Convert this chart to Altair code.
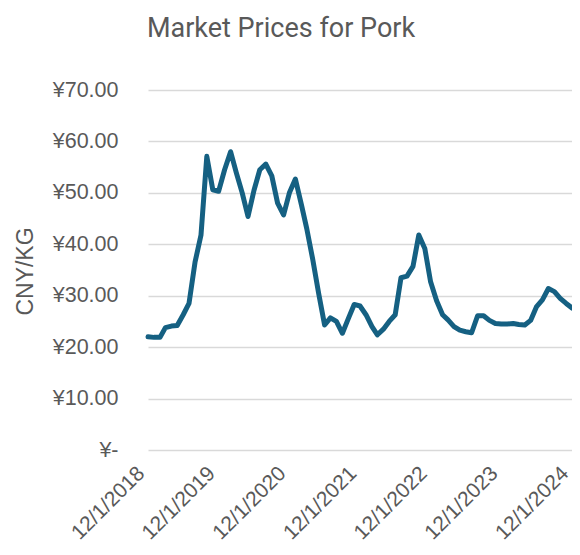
import altair as alt
import pandas as pd

start_month = "2018-12-01"
prices = [
    22.0, 21.9, 21.9, 23.8, 24.1, 24.2, 26.3, 28.5, 36.5, 41.8, 57.1, 50.6,
    50.3, 54.5, 58.0, 54.0, 50.0, 45.4, 50.5, 54.5, 55.6, 53.3, 48.0, 45.7,
    50.0, 52.7, 47.7, 43.0, 37.0, 30.5, 24.3, 25.7, 25.0, 22.7, 25.5, 28.3,
    28.0, 26.3, 24.0, 22.4, 23.5, 25.0, 26.3, 33.5, 33.8, 35.7, 41.8, 39.2,
    32.7, 29.0, 26.3, 25.3, 24.0, 23.3, 23.0, 22.8, 26.1, 26.1, 25.2, 24.6,
    24.5, 24.5, 24.6, 24.4, 24.3, 25.2, 27.9, 29.2, 31.4, 30.8, 29.5, 28.5,
    27.6,
]
tick_years = [2018, 2019, 2020, 2021, 2022, 2023, 2024]
y_ticks = [0, 10, 20, 30, 40, 50, 60, 70]

months = pd.date_range(start_month, periods=len(prices), freq="MS")
df = pd.DataFrame({"month": months.strftime("%Y-%m-%dT00:00:00"), "price": prices})

label_font = "Liberation Sans"
grey = "#595959"

chart = (
    alt.Chart(df)
    .mark_line(color="#156082", strokeWidth=5, strokeCap="round", strokeJoin="round")
    .encode(
        x=alt.X(
            "month:T",
            scale=alt.Scale(
                domain=[
                    alt.DateTime(year=tick_years[0], month=12, date=1),
                    alt.DateTime(year=tick_years[-1], month=12, date=1),
                ]
            ),
            axis=alt.Axis(
                values=[alt.DateTime(year=y, month=12, date=1) for y in tick_years],
                format="%-m/%-d/%Y",
                labelAngle=-45,
                labelAlign="right",
                labelBaseline="middle",
                labelFont=label_font,
                labelFontSize=21,
                labelColor=grey,
                labelPadding=20,
                labelOffset=-7,
                labelOverlap=False,
                labelBound=False,
                labelFlush=False,
                domain=False,
                ticks=False,
                grid=False,
                title=None,
            ),
        ),
        y=alt.Y(
            "price:Q",
            scale=alt.Scale(domain=[0, 70], nice=False, zero=True),
            axis=alt.Axis(
                values=y_ticks,
                labelExpr="datum.value == 0 ? '¥-\u00a0\u00a0' : '¥' + format(datum.value, '.2f')",
                labelFont=label_font,
                labelFontSize=21.5,
                labelColor=grey,
                labelPadding=30,
                domain=False,
                ticks=False,
                grid=True,
                gridColor="#d9d9d9",
                gridWidth=1.5,
                title="CNY/KG",
                titleFont=label_font,
                titleFontSize=23,
                titleFontWeight="normal",
                titleColor=grey,
                titleX=-123,
                titleY=181,
                titleAngle=-90,
                titleAlign="center",
                titleBaseline="middle",
            ),
        ),
    )
    .properties(
        width=424,
        height=360,
        title=alt.TitleParams(
            "Market Prices for Pork",
            font="Roboto",
            fontSize=27,
            fontWeight="normal",
            color=grey,
            anchor="middle",
            dx=-79,
            offset=36,
        ),
        autosize=alt.AutoSizeParams(type="none"),
        padding={"left": 140, "top": 82, "right": 0, "bottom": 97},
    )
    .configure_view(stroke=None)
)

chart.save("out.html", embed_options={"renderer": "svg", "actions": False})
